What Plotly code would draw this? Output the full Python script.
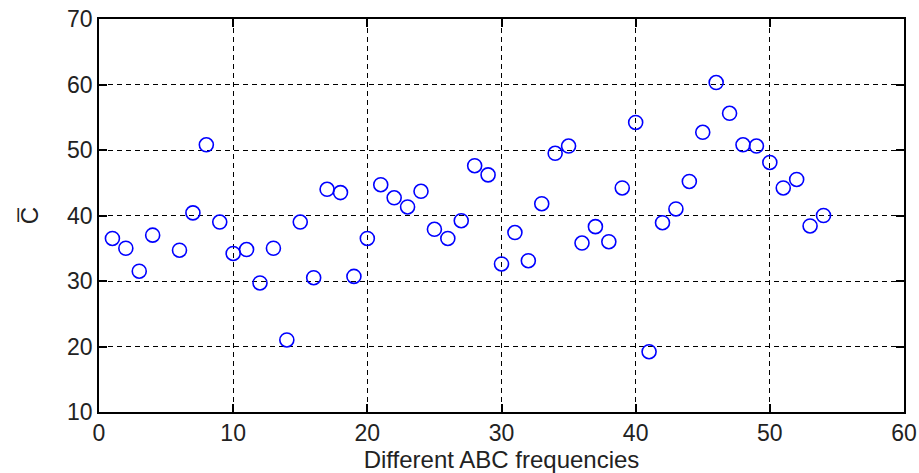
import plotly.graph_objects as go

x_vals = [1, 2, 3, 4, 6, 7, 8, 9, 10, 11, 12, 13, 14, 15, 16, 17, 18, 19, 20,
          21, 22, 23, 24, 25, 26, 27, 28, 29, 30, 31, 32, 33, 34, 35, 36, 37,
          38, 39, 40, 41, 42, 43, 44, 45, 46, 47, 48, 49, 50, 51, 52, 53, 54]
c_vals = [36.5, 35.0, 31.5, 37.0, 34.7, 40.4, 50.8, 39.0, 34.2, 34.8, 29.7,
          35.0, 21.0, 39.0, 30.5, 44.0, 43.5, 30.7, 36.5, 44.7, 42.7, 41.3,
          43.7, 37.9, 36.5, 39.2, 47.6, 46.2, 32.6, 37.4, 33.1, 41.8, 49.5,
          50.6, 35.8, 38.3, 36.0, 44.2, 54.2, 19.2, 38.9, 41.0, 45.2, 52.7,
          60.3, 55.6, 50.8, 50.6, 48.1, 44.2, 45.5, 38.4, 40.0]
x_ticks = [0, 10, 20, 30, 40, 50, 60]
y_ticks = [10, 20, 30, 40, 50, 60, 70]

FONT = "Liberation Sans, Arial"
TXT = "#222222"

fig = go.Figure()
fig.add_trace(go.Scatter(
    x=x_vals, y=c_vals, mode="markers",
    marker=dict(symbol="circle-open", size=14, color="#0000ff",
                line=dict(width=1.6, color="#0000ff")),
    showlegend=False,
))

axis_common = dict(
    showline=True, linecolor="black", linewidth=1.5, mirror="ticks",
    ticks="inside", ticklen=8, tickwidth=1.5, tickcolor="black",
    showgrid=True, gridcolor="black", gridwidth=1, griddash="5px,4px",
    zeroline=False, automargin=False,
    tickfont=dict(family=FONT, size=23, color=TXT),
)

fig.update_layout(
    width=919, height=473,
    margin=dict(l=99, r=15, t=19, b=61, autoexpand=False),
    paper_bgcolor="white", plot_bgcolor="white",
    xaxis=dict(range=[0, 60], tickvals=x_ticks,
               title=dict(text="Different ABC frequencies", standoff=2,
                          font=dict(family=FONT, size=24, color=TXT)),
               **axis_common),
    yaxis=dict(range=[10, 70], tickvals=y_ticks,
               title=dict(text="C\u0305", standoff=22,
                          font=dict(family=FONT, size=24, color=TXT)),
               **axis_common),
)

fig.write_html("out.html")
